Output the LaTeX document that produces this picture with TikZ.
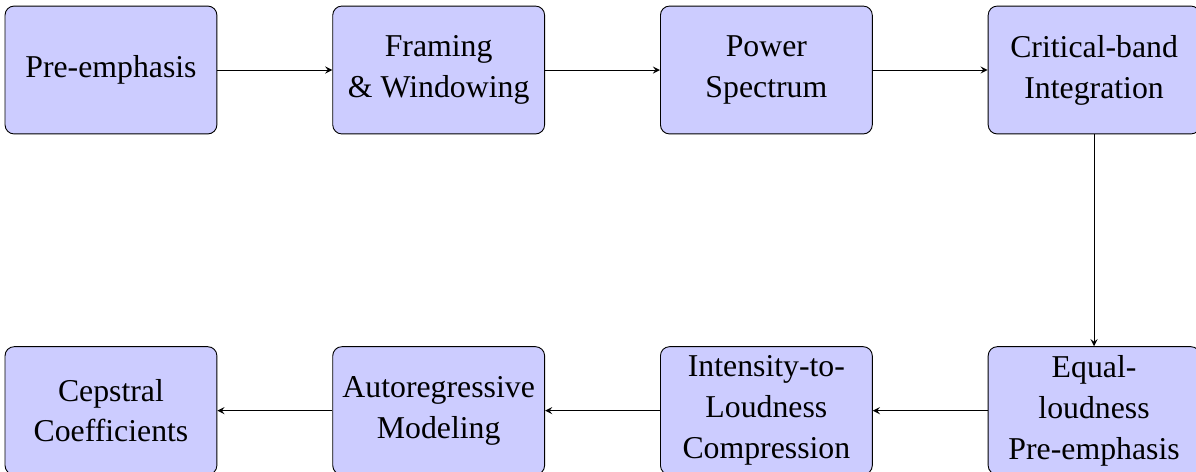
\documentclass[tikz,border=0pt]{standalone}
\usepackage{fontspec}
\setmainfont{Liberation Serif}
\usetikzlibrary{positioning}

\tikzset{
  block/.style={draw, fill=blue!20, rounded corners, align=center,
    minimum width=3.28cm, minimum height=1.98cm,
    font=\fontsize{14}{18}\selectfont},
  flow/.style={-stealth}
}

\begin{document}
\begin{tikzpicture}[node distance=1.78cm and 1.78cm]
\useasboundingbox (-1.718,1.084) rectangle (16.80,-6.22);

% top row
\node[block] (preemph) at (0,0) {Pre-emphasis};
\node[block, right=of preemph] (framing) {Framing\\\& Windowing};
\node[block, right=of framing] (power) {Power\\Spectrum};
\node[block, right=of power] (critical) {Critical-band\\Integration};

% bottom row, right to left
\node[block, below=3.28cm of critical] (equal) {Equal-\\loudness\\Pre-emphasis};
\node[block, left=of equal] (intensity) {Intensity-to-\\Loudness\\Compression};
\node[block, left=of intensity] (autoreg) {Autoregressive\\Modeling};
\node[block, left=of autoreg] (cepstral) {Cepstral\\Coefficients};

\draw[flow] (preemph) -- (framing);
\draw[flow] (framing) -- (power);
\draw[flow] (power) -- (critical);
\draw[flow] (critical) -- (equal);
\draw[flow] (equal) -- (intensity);
\draw[flow] (intensity) -- (autoreg);
\draw[flow] (autoreg) -- (cepstral);

\end{tikzpicture}
\end{document}
